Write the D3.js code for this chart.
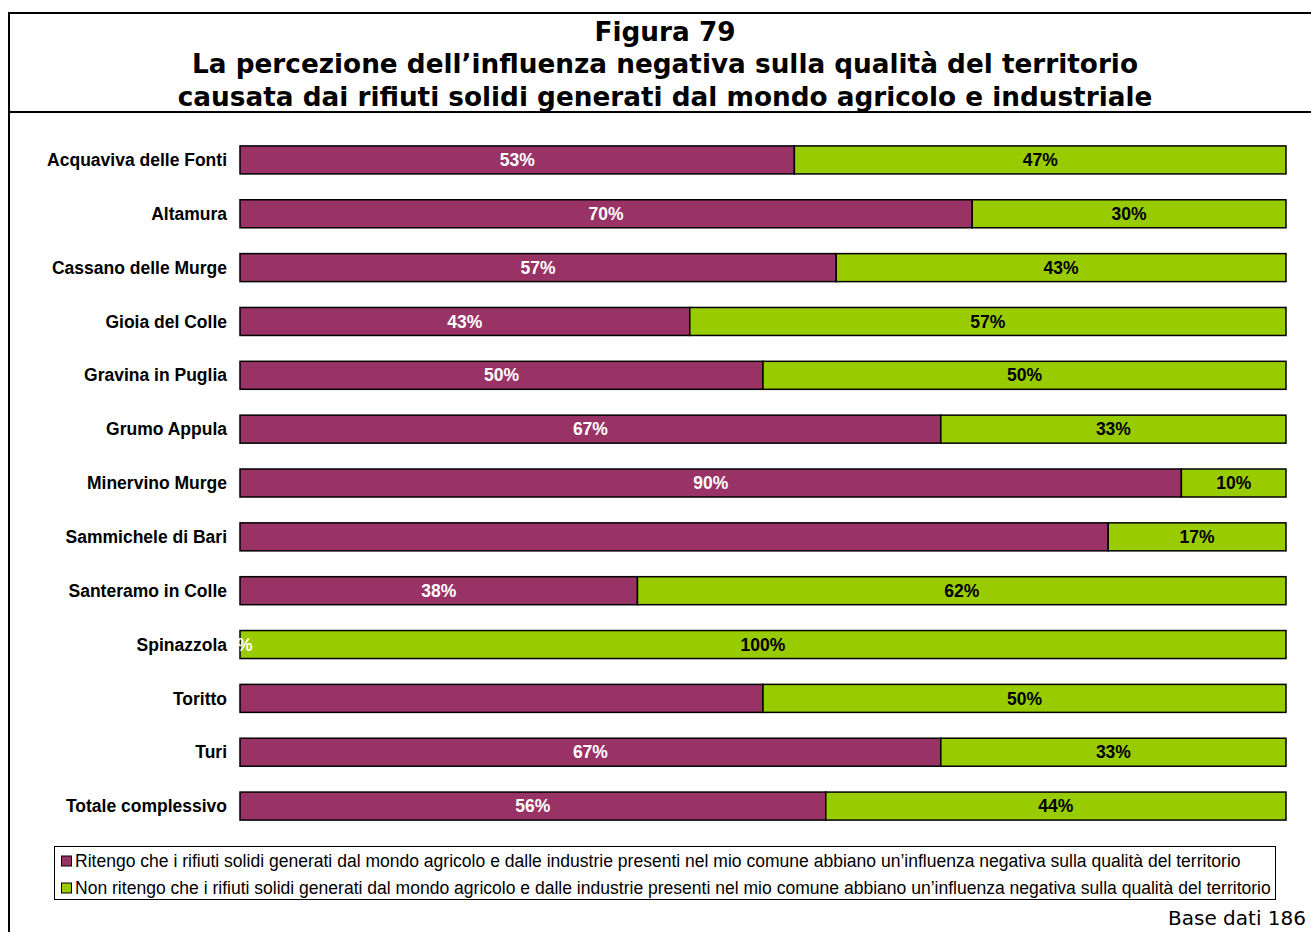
<!DOCTYPE html>
<html><head><meta charset="utf-8">
<script src="https://cdn.jsdelivr.net/npm/d3@7"></script>
<style>body{margin:0;background:#fff;} svg{display:block;}</style>
</head><body>
<script>
const categories = ["Acquaviva delle Fonti","Altamura","Cassano delle Murge","Gioia del Colle","Gravina in Puglia","Grumo Appula","Minervino Murge","Sammichele di Bari","Santeramo in Colle","Spinazzola","Toritto","Turi","Totale complessivo"];
const ritengo = [53,70,57,43,50,67,90,83,38,0,50,67,56];
const nonRitengo = [47,30,43,57,50,33,10,17,62,100,50,33,44];
// labels shown on the purple segments (some hidden in the original)
const showRitengoLabel = [true,true,true,true,true,true,true,false,true,true,false,true,true];
const seriesNames = ["Ritengo che i rifiuti solidi generati dal mondo agricolo e dalle industrie presenti nel mio comune abbiano un\u2019influenza negativa sulla qualità del territorio","Non ritengo che i rifiuti solidi generati dal mondo agricolo e dalle industrie presenti nel mio comune abbiano un\u2019influenza negativa sulla qualità del territorio"];
const titleLines = ["Figura 79","La percezione dell\u2019influenza negativa sulla qualità del territorio","causata dai rifiuti solidi generati dal mondo agricolo e industriale"];
const baseText = "Base dati 186";

const W=1311,H=932;
const colors=["#993366","#99CC00"];
const svg=d3.select("body").append("svg").attr("width",W).attr("height",H);

// frame
svg.append("line").attr("x1",9).attr("x2",9).attr("y1",12).attr("y2",H).attr("stroke","#000").attr("stroke-width",2);
svg.append("line").attr("x1",8).attr("x2",W).attr("y1",13).attr("y2",13).attr("stroke","#000").attr("stroke-width",2);
svg.append("line").attr("x1",8).attr("x2",W).attr("y1",112).attr("y2",112).attr("stroke","#000").attr("stroke-width",2);

// title
const tY=[41,73,106];
titleLines.forEach((t,i)=>{
  svg.append("text").attr("x",665).attr("y",tY[i]).attr("text-anchor","middle")
   .attr("font-family","DejaVu Sans, Verdana, sans-serif").attr("font-weight","bold")
   .attr("font-size",26.3).text(t);
});

const x=d3.scaleLinear().domain([0,100]).range([240,1286]);
const y=d3.scaleBand().domain(categories).range([133,833]).paddingInner(0.48).paddingOuter(0.24);

svg.append("defs").append("clipPath").attr("id","plot").append("rect")
  .attr("x",239).attr("y",120).attr("width",1060).attr("height",720);

const g=svg.append("g");
const rows=categories.map((c,i)=>({c,a:ritengo[i],b:nonRitengo[i],show:showRitengoLabel[i]}));

// category labels
g.selectAll("text.cat").data(rows).join("text").attr("class","cat")
 .attr("x",227).attr("y",d=>y(d.c)+y.bandwidth()/2).attr("dy","0.35em")
 .attr("text-anchor","end").attr("font-family","Liberation Sans, Arial, sans-serif")
 .attr("font-weight","bold").attr("font-size",17.5).text(d=>d.c);

// bars
rows.forEach(d=>{
  if(d.a>0) g.append("rect").attr("x",x(0)).attr("y",y(d.c)).attr("width",x(d.a)-x(0)).attr("height",y.bandwidth())
    .attr("fill",colors[0]).attr("stroke","#000").attr("stroke-width",1.5);
  g.append("rect").attr("x",x(d.a)).attr("y",y(d.c)).attr("width",x(d.a+d.b)-x(d.a)).attr("height",y.bandwidth())
    .attr("fill",colors[1]).attr("stroke","#000").attr("stroke-width",1.5);
});

const lab=svg.append("g").attr("clip-path","url(#plot)")
  .attr("font-family","Liberation Sans, Arial, sans-serif").attr("font-weight","bold").attr("font-size",17.5).attr("text-anchor","middle");
rows.forEach(d=>{
  const cy=y(d.c)+y.bandwidth()/2;
  if(d.show) lab.append("text").attr("x",x(d.a/2)).attr("y",cy).attr("dy","0.35em").attr("fill","#fff").text(d.a+"%");
  lab.append("text").attr("x",x(d.a+d.b/2)).attr("y",cy).attr("dy","0.35em").attr("fill","#000").text(d.b+"%");
});

// legend
svg.append("rect").attr("x",54.5).attr("y",846.5).attr("width",1221).attr("height",53).attr("fill","#fff").attr("stroke","#000").attr("stroke-width",1);
seriesNames.forEach((s,i)=>{
  const ly=861+i*27;
  svg.append("rect").attr("x",61.5).attr("y",ly-5).attr("width",10).attr("height",10).attr("fill",colors[i]).attr("stroke","#000").attr("stroke-width",1);
  svg.append("text").attr("x",75).attr("y",ly).attr("dy","0.35em").attr("font-family","Liberation Sans, Arial, sans-serif").attr("font-size",17.55).text(s);
});

svg.append("text").attr("x",1306).attr("y",925).attr("text-anchor","end").attr("font-family","DejaVu Sans, Verdana, sans-serif").attr("font-size",20).text(baseText);
</script>
</body></html>
